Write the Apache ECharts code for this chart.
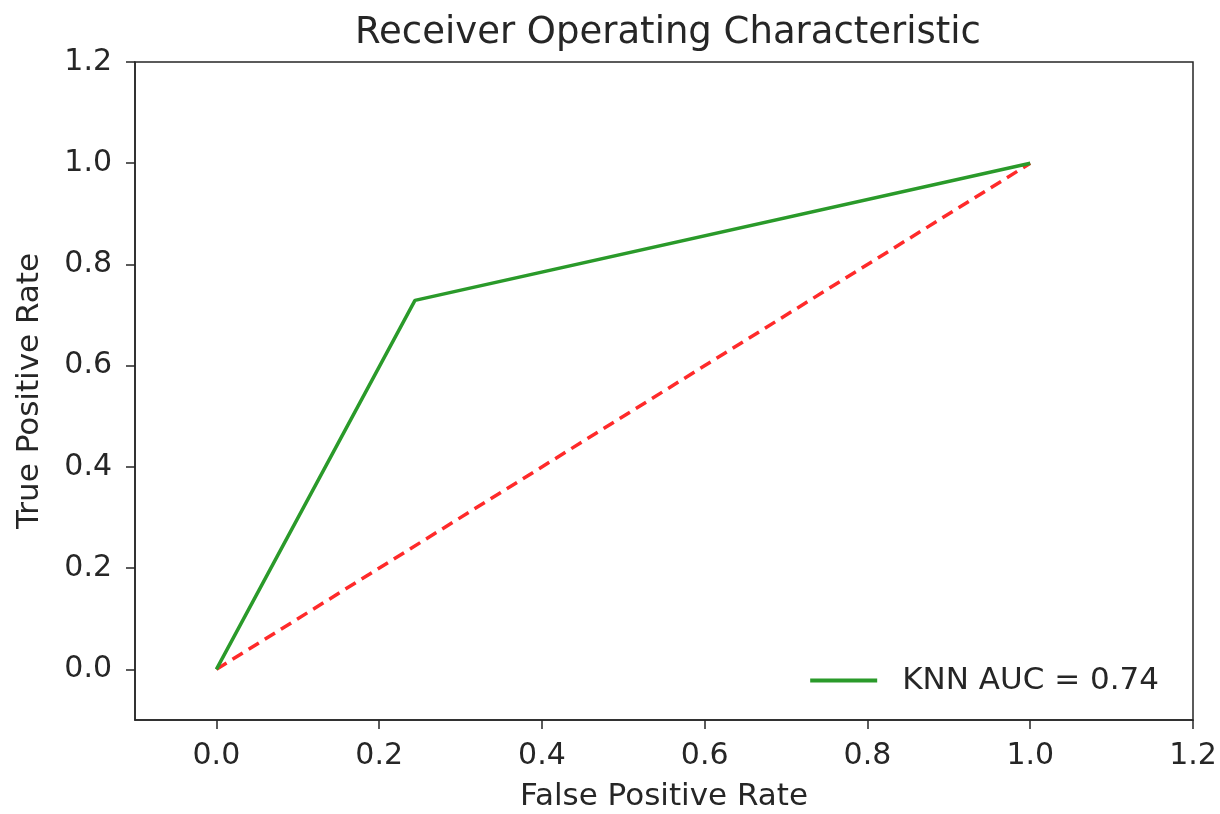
<!DOCTYPE html>
<html>
<head>
<meta charset="utf-8">
<title>ROC</title>
<script src="https://cdn.jsdelivr.net/npm/echarts@6/dist/echarts.min.js"></script>
<style>
  html, body { margin: 0; padding: 0; background: #fff; }
  #main { width: 1220px; height: 814px; }
</style>
</head>
<body>
<div id="main"></div>
<script>
// data
var knnFpr = [0, 0.244, 1];
var knnTpr = [0, 0.729, 1];
var chanceFpr = [0, 1];
var chanceTpr = [0, 1];
var tickValues = [0, 0.2, 0.4, 0.6, 0.8, 1.0, 1.2];
var knnName = "KNN AUC = 0.74";

function pairs(xs, ys) {
  var out = [];
  for (var i = 0; i < xs.length; i++) out.push([xs[i], ys[i]]);
  return out;
}

var font = "DejaVu Sans";
var ink = "#262626";
var green = "#2a9a2a";
var red = "#ff2a2a";

var myChart = echarts.init(document.getElementById("main"), null, { renderer: "canvas" });

//坐标轴：两边都一样，只有名字和间距不同
function axis(name, gap, labelMargin) {
  return {
    type: "value",
    min: -0.1,
    max: 1.2,
    name: name,
    nameLocation: "middle",
    nameGap: gap,
    nameTextStyle: { fontFamily: font, fontSize: 31, color: ink },
    axisLine: { show: true, onZero: false, lineStyle: { color: ink, width: 1.5 } },
    axisTick: { show: true, customValues: tickValues, length: 9, lineStyle: { color: ink, width: 1.5 } },
    axisLabel: {
      customValues: tickValues,
      margin: labelMargin,
      fontFamily: font, fontSize: 30, color: ink,
      formatter: function (v) { return v.toFixed(1); }
    },
    splitLine: { show: false }
  };
}

myChart.setOption({
  backgroundColor: "#fff",
  animation: false,
  title: {
    text: "Receiver Operating Characteristic",
    left: 663,
    textAlign: "center",
    top: 10,
    textStyle: { fontFamily: font, fontSize: 37, fontWeight: "normal", color: ink }
  },
  grid: {
    left: 135, right: 27, top: 62, bottom: 94,
    show: true, borderColor: ink, borderWidth: 1.5,
    containLabel: false,
    outerBoundsMode: "none"
  },
  legend: {
    data: [{ name: knnName, icon: "rect" }],
    right: 56,
    top: 660,
    itemWidth: 67,
    itemHeight: 4,
    itemStyle: { color: green },
    textStyle: { fontFamily: font, fontSize: 31, color: ink, padding: [0, 0, 0, 20] }
  },
  xAxis: axis("False Positive Rate", 61, 21),
  yAxis: axis("True Positive Rate", 90, 23),
  series: [
    {
      name: knnName,
      type: "line",
      data: pairs(knnFpr, knnTpr),
      symbol: "none",
      lineStyle: { color: green, width: 3.5 },
      itemStyle: { color: green },
      z: 3
    },
    {
      name: "chance",
      type: "line",
      data: pairs(chanceFpr, chanceTpr),
      symbol: "none",
      lineStyle: { color: red, width: 3.5, type: [12, 7] },
      itemStyle: { color: red },
      z: 2
    }
  ]
});
</script>
</body>
</html>
